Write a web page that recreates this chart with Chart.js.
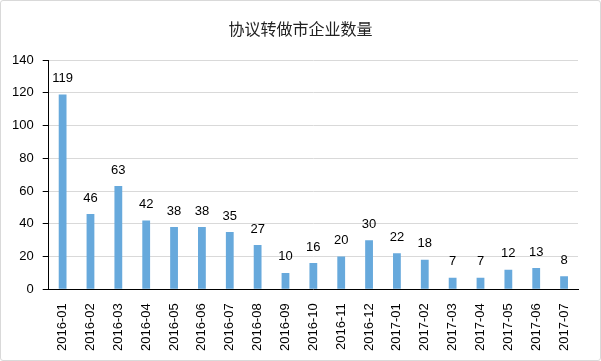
<!DOCTYPE html>
<html>
<head>
<meta charset="utf-8">
<script src="https://cdn.jsdelivr.net/npm/chart.js@4"></script>
<style>
html,body{margin:0;padding:0;background:#fff;}
#wrap{position:absolute;left:0;top:0;width:599px;height:359px;border:1px solid #d9d9d9;border-radius:3px;}
canvas{display:block;}
</style>
</head>
<body>
<div id="wrap"><canvas id="c" width="599" height="359"></canvas></div>
<script>
const title = '协议转做市企业数量';
const categories = ['2016-01','2016-02','2016-03','2016-04','2016-05','2016-06','2016-07','2016-08','2016-09','2016-10','2016-11','2016-12','2017-01','2017-02','2017-03','2017-04','2017-05','2017-06','2017-07'];
const counts = [119,46,63,42,38,38,35,27,10,16,20,30,22,18,7,7,12,13,8];
const yTicks = [0,20,40,60,80,100,120,140];

const labelFont = '13px "Liberation Sans", Arial, sans-serif';

const valueLabels = {
  id: 'valueLabels',
  afterDatasetsDraw(chart) {
    const ctx = chart.ctx;
    const meta = chart.getDatasetMeta(0);
    ctx.save();
    ctx.font = labelFont;
    ctx.fillStyle = '#000';
    ctx.textAlign = 'center';
    ctx.textBaseline = 'middle';
    meta.data.forEach((bar, i) => {
      ctx.fillText(String(counts[i]), bar.x, bar.y - 16);
    });
    ctx.restore();
  }
};

const centeredTitle = {
  id: 'centeredTitle',
  afterDraw(chart) {
    const ctx = chart.ctx;
    ctx.save();
    ctx.font = '16px "Noto Sans CJK SC", sans-serif';
    ctx.fillStyle = '#222';
    ctx.textAlign = 'center';
    ctx.textBaseline = 'middle';
    ctx.fillText(title, chart.width / 2, 28);
    ctx.restore();
  }
};

new Chart(document.getElementById('c'), {
  type: 'bar',
  data: {
    labels: categories,
    datasets: [{
      data: counts,
      backgroundColor: '#67a9dc',
      categoryPercentage: 1,
      barPercentage: 0.28
    }]
  },
  options: {
    responsive: false,
    animation: false,
    layout: { padding: { left: 2, right: 22, top: 59, bottom: 3 } },
    plugins: {
      legend: { display: false },
      tooltip: { enabled: false },
      title: { display: false }
    },
    scales: {
      x: {
        grid: { display: false },
        border: { display: true, color: '#000', width: 1 },
        ticks: {
          color: '#000',
          font: { family: '"Liberation Sans", Arial, sans-serif', size: 13 },
          minRotation: 90, maxRotation: 90,
          autoSkip: false,
          padding: 6
        }
      },
      y: {
        min: 0, max: 140,
        afterBuildTicks(axis) { axis.ticks = yTicks.map(v => ({ value: v })); },
        grid: { color: '#d9d9d9', tickColor: '#000', tickLength: 6, lineWidth: 1 },
        border: { display: true, color: '#000', width: 1 },
        ticks: {
          color: '#000',
          font: { family: '"Liberation Sans", Arial, sans-serif', size: 13 },
          padding: 9
        }
      }
    }
  },
  plugins: [valueLabels, centeredTitle]
});
</script>
</body>
</html>
